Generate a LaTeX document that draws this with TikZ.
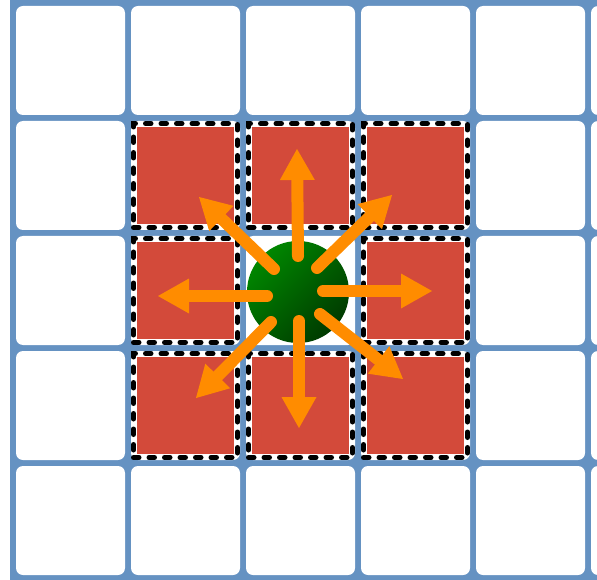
\documentclass[tikz,border=0pt]{standalone}
\usetikzlibrary{arrows.meta}
\definecolor{gridblue}{RGB}{101,146,194}
\definecolor{cellred}{RGB}{211,74,58}
\definecolor{arrorange}{RGB}{255,140,0}
\definecolor{brightgreen}{RGB}{0,135,0}
\definecolor{darkgreen}{RGB}{0,58,0}
\tikzset{
  cell/.style={fill=white, draw=none, rounded corners=7pt, minimum size=109pt, inner sep=0pt},
  dashbox/.style={fill=white, draw=black, line width=5pt, dash pattern=on 5.5pt off 10pt, line cap=round, minimum size=104pt, inner sep=0pt},
  redbox/.style={fill=cellred, draw=none, minimum size=97pt, inner sep=0pt},
  ball/.style={circle, minimum size=102pt, inner sep=0pt, top color=brightgreen, bottom color=darkgreen, shading angle=45},
  arr/.style={draw=arrorange, line width=12pt, line cap=round, -{Triangle[length=31pt,width=35pt,line width=0pt]}}
}
\begin{document}
\begin{tikzpicture}[x=1pt,y=-1pt]
\clip (0,0) rectangle (597,580);
\fill[white] (0,0) rectangle (597,580);
\fill[gridblue] (10,0) rectangle (597,580);
\foreach \i in {0,...,5}{
  \foreach \j in {0,...,4}{
    \node[cell] (c-\i-\j) at ({16+115*\i+54.5},{6+115*\j+54.5}) {};
  }
}
\foreach \i/\j in {1/1,2/1,3/1,1/2,3/2,1/3,2/3,3/3}{
  \node[dashbox] (d-\i-\j) at ({16+115*\i+54.5},{6+115*\j+54.5}) {};
  \node[redbox] (r-\i-\j) at ({16+115*\i+54.5},{6+115*\j+54.5}) {};
}
\node[ball] (ball) at (298,292) {};
% arrow ends
\coordinate (sU) at (298,256);  \coordinate (tU) at (297,149);
\coordinate (sD) at (299,321);  \coordinate (tD) at (299,428);
\coordinate (sL) at (267,296);  \coordinate (tL) at (158,296);
\coordinate (sR) at (323,291);  \coordinate (tR) at (432,291);
\coordinate (sUL) at (274,269); \coordinate (tUL) at (199,197);
\coordinate (sUR) at (317,268); \coordinate (tUR) at (392,195);
\coordinate (sDL) at (271,322); \coordinate (tDL) at (196,398);
\coordinate (sDR) at (320,314); \coordinate (tDR) at (403,379);
\foreach \d in {U,D,L,R,UL,UR,DL,DR}{
  \draw[arr] (s\d) -- (t\d);
}
\end{tikzpicture}
\end{document}
